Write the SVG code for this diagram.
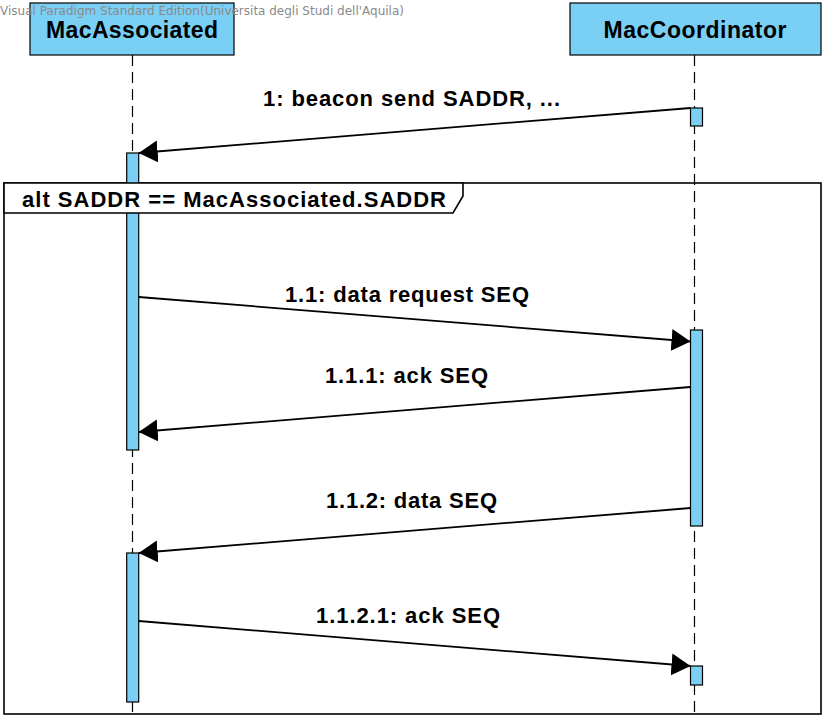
<svg xmlns="http://www.w3.org/2000/svg" width="828" height="720" viewBox="0 0 828 720">
<style>
.box{fill:#7ACFF5;stroke:#000;stroke-width:1.2}
.act{fill:#7ACFF5;stroke:#000;stroke-width:1.2}
.life{stroke:#000;stroke-width:1.2;stroke-dasharray:11,6;fill:none}
.msg{stroke:#000;stroke-width:1.8;fill:none;marker-end:url(#arr)}
.title{font-family:"Liberation Sans",Arial,sans-serif;font-weight:bold;font-size:23px;fill:#000;text-anchor:middle}
.lbl{font-family:"Liberation Sans",Arial,sans-serif;font-weight:bold;font-size:22px;fill:#000}
.wm{font-family:"DejaVu Sans",sans-serif;font-size:12px;fill:#8a8a8a}
.frame{fill:none;stroke:#000;stroke-width:1.6}
.tab{fill:#fff;stroke:#000;stroke-width:1.6}
</style>
<defs>
<marker id="arr" markerUnits="userSpaceOnUse" markerWidth="20" markerHeight="24" refX="19" refY="11" orient="auto">
<path d="M0,0 L19,11 L0,22 z" fill="#000"/>
</marker>
</defs>
<rect class="frame" x="4" y="183" width="817" height="531"/>
<g id="MacAssociated">
<rect class="box" x="30" y="3" width="204" height="52"/>
<line class="life" x1="132.5" y1="55" x2="132.5" y2="712"/>
<text class="title" x="132" y="38" textLength="172" lengthAdjust="spacing">MacAssociated</text>
<rect class="act" x="126.7" y="153" width="12" height="297"/>
<rect class="act" x="126.7" y="553" width="12" height="149"/>
</g>
<g id="MacCoordinator">
<rect class="box" x="570" y="3" width="251" height="52"/>
<line class="life" x1="694.5" y1="55" x2="694.5" y2="712"/>
<text class="title" x="695" y="38" textLength="183" lengthAdjust="spacing">MacCoordinator</text>
<rect class="act" x="690.5" y="108" width="12" height="18"/>
<rect class="act" x="690.5" y="330" width="12" height="196"/>
<rect class="act" x="690.5" y="666" width="12" height="19"/>
</g>
<g id="frame-alt">
<path class="tab" d="M4,183 L463,183 L463,196 L453,213 L4,213 Z"/>
<text class="lbl" x="22" y="207" textLength="424" lengthAdjust="spacing">alt SADDR == MacAssociated.SADDR</text>
</g>
<g id="connectors">
<line class="msg" x1="690.5" y1="108" x2="138.7" y2="153"/>
<text class="lbl" x="263" y="106" textLength="297" lengthAdjust="spacing">1: beacon send SADDR, ...</text>
<line class="msg" x1="138.7" y1="297" x2="690.5" y2="341.5"/>
<text class="lbl" x="285" y="302" textLength="244" lengthAdjust="spacing">1.1: data request SEQ</text>
<line class="msg" x1="690.5" y1="387" x2="138.7" y2="432"/>
<text class="lbl" x="325" y="383" textLength="163" lengthAdjust="spacing">1.1.1: ack SEQ</text>
<line class="msg" x1="690.5" y1="508" x2="138.7" y2="553"/>
<text class="lbl" x="326" y="508" textLength="171" lengthAdjust="spacing">1.1.2: data SEQ</text>
<line class="msg" x1="138.7" y1="621" x2="690.5" y2="666"/>
<text class="lbl" x="316" y="623" textLength="184" lengthAdjust="spacing">1.1.2.1: ack SEQ</text>
</g>
<text class="wm" x="0" y="15">Visual Paradigm Standard Edition(Universita degli Studi dell'Aquila)</text>
</svg>
